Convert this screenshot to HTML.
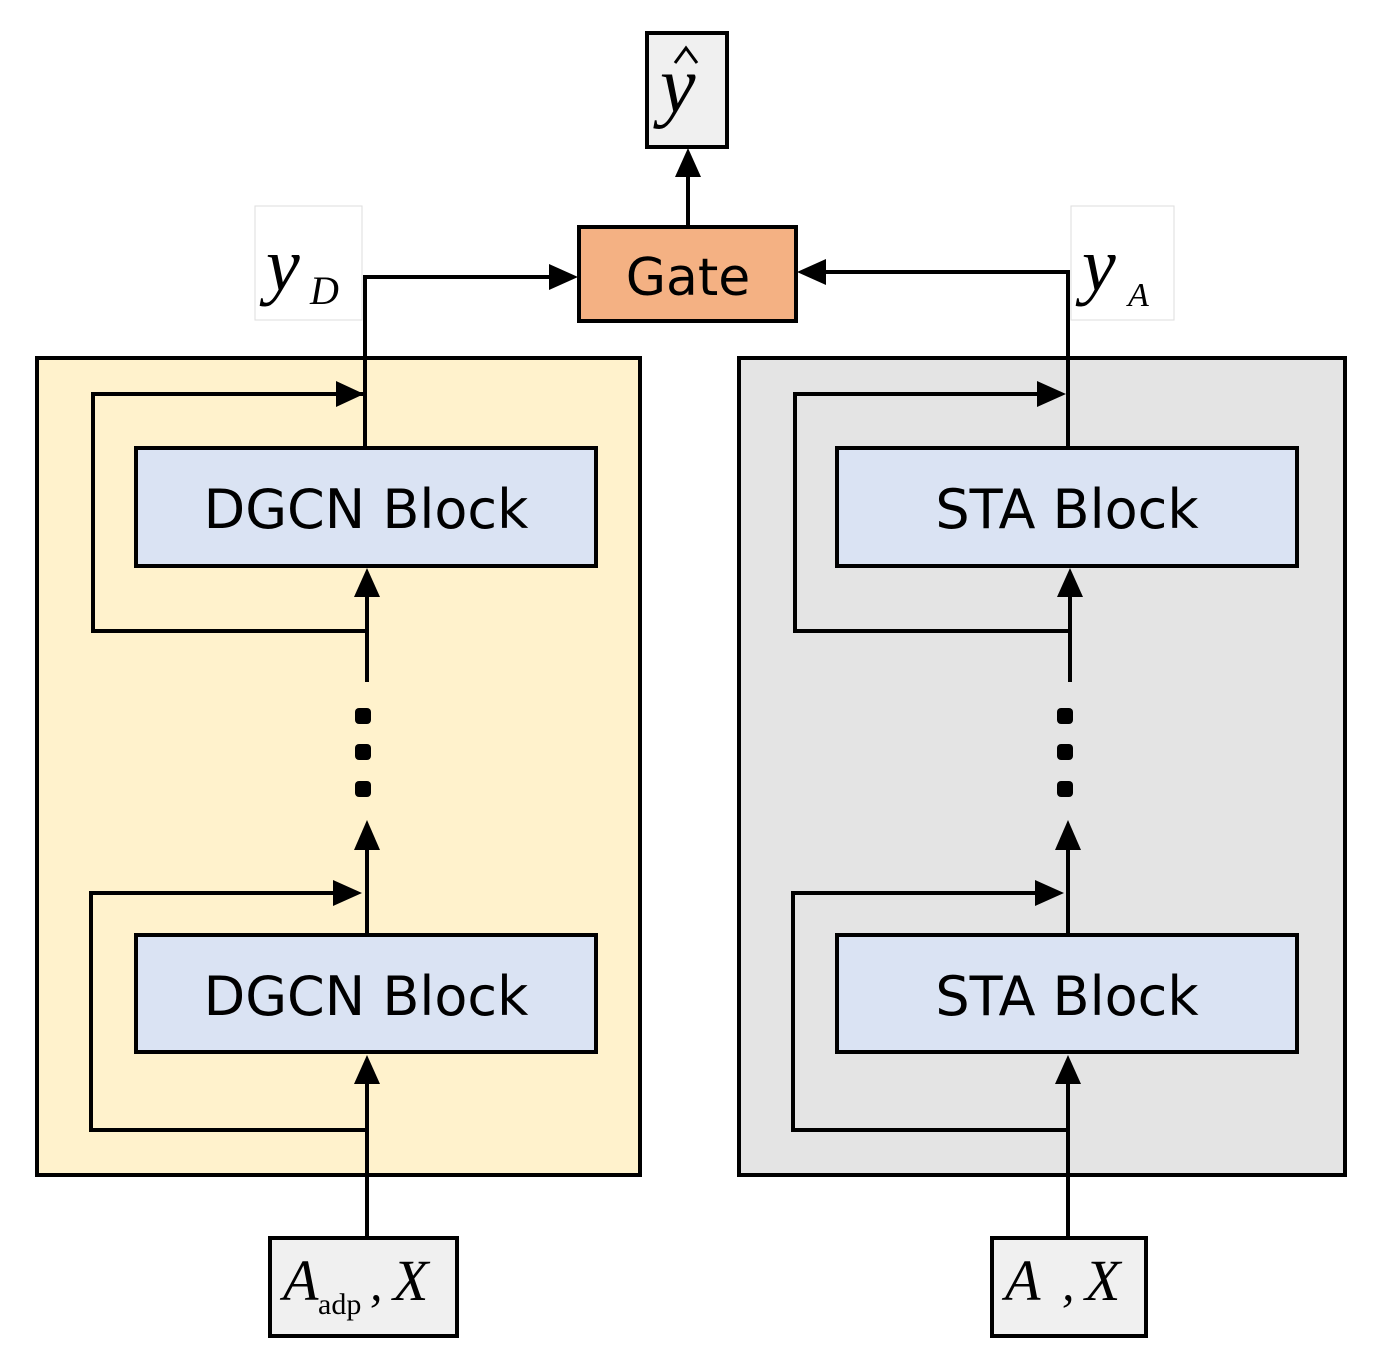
<!DOCTYPE html>
<html><head><meta charset="utf-8"><style>
html,body{margin:0;padding:0;background:#fff;}
svg{display:block;}
.t{font-family:"DejaVu Sans","Liberation Sans",sans-serif;}
.m{font-family:"Liberation Serif",serif;font-style:italic;}
</style></head><body>
<svg width="1379" height="1364" viewBox="0 0 1379 1364" xmlns="http://www.w3.org/2000/svg">
<!-- panels -->
<rect x="37" y="358" width="603" height="817" fill="#fff2cc" stroke="#000" stroke-width="4"/>
<rect x="739" y="358" width="606" height="817" fill="#e4e4e4" stroke="#000" stroke-width="4"/>
<!-- label boxes -->
<rect x="255" y="206" width="107" height="114" fill="#fff" stroke="#ddd" stroke-width="1"/>
<rect x="1071" y="206" width="103" height="114" fill="#fff" stroke="#ddd" stroke-width="1"/>
<text x="266" y="290" class="m" font-size="76">y</text><text x="310" y="304" class="m" font-size="40">D</text>
<text x="1082" y="290" class="m" font-size="76">y</text><text x="1128" y="306" class="m" font-size="34">A</text>
<!-- yhat -->
<rect x="647" y="33" width="80" height="114" fill="#f0f0f0" stroke="#000" stroke-width="4"/>
<text x="660" y="112" class="m" font-size="80">y</text>
<polyline points="675,63 686,48 697,63" fill="none" stroke="#000" stroke-width="3"/>
<!-- gate -->
<rect x="579" y="227" width="217" height="94" fill="#f4b183" stroke="#000" stroke-width="4"/>
<text x="688" y="295" class="t" font-size="52" text-anchor="middle">Gate</text>
<g stroke="#000" stroke-width="4" fill="none">
<line x1="688" y1="227" x2="688" y2="175"/>
<polyline points="365,358 365,277 550,277"/>
<polyline points="1068,358 1068,272 826,272"/>
<line x1="365" y1="358" x2="365" y2="448"/>
<polyline points="365,394 93,394 93,631 367,631"/>
<line x1="367" y1="682" x2="367" y2="595"/>
<line x1="367" y1="935" x2="367" y2="850"/>
<polyline points="335,893 91,893 91,1130 367,1130"/>
<line x1="367" y1="1238" x2="367" y2="1082"/>
<line x1="1068" y1="358" x2="1068" y2="448"/>
<polyline points="1038,394 795,394 795,631 1070,631"/>
<line x1="1070" y1="682" x2="1070" y2="595"/>
<line x1="1068" y1="935" x2="1068" y2="850"/>
<polyline points="1038,893 793,893 793,1130 1068,1130"/>
<line x1="1068" y1="1238" x2="1068" y2="1082"/>
</g>
<g fill="#000">
<polygon points="688,148 675,177 701,177"/>
<polygon points="578,277 549,264 549,290"/>
<polygon points="797,272 826,259 826,285"/>
<polygon points="364,394 336,381 336,407"/>
<polygon points="367,568 354,597 380,597"/>
<polygon points="367,820 354,850 380,850"/>
<polygon points="362,893 333,880 333,906"/>
<polygon points="367,1055 354,1084 380,1084"/>
<polygon points="1066,394 1037,381 1037,407"/>
<polygon points="1070,568 1057,597 1083,597"/>
<polygon points="1068,820 1055,850 1081,850"/>
<polygon points="1064,893 1035,880 1035,906"/>
<polygon points="1068,1055 1055,1084 1081,1084"/>
<rect x="355" y="708" width="16" height="16" rx="4"/><rect x="355" y="744" width="16" height="16" rx="4"/><rect x="355" y="781" width="16" height="16" rx="4"/>
<rect x="1057" y="708" width="16" height="16" rx="4"/><rect x="1057" y="744" width="16" height="16" rx="4"/><rect x="1057" y="781" width="16" height="16" rx="4"/>
</g>
<!-- blocks -->
<rect x="136" y="448" width="460" height="118" fill="#dae3f3" stroke="#000" stroke-width="4"/>
<rect x="136" y="935" width="460" height="117" fill="#dae3f3" stroke="#000" stroke-width="4"/>
<rect x="837" y="448" width="460" height="118" fill="#dae3f3" stroke="#000" stroke-width="4"/>
<rect x="837" y="935" width="460" height="117" fill="#dae3f3" stroke="#000" stroke-width="4"/>
<text x="366" y="528" class="t" font-size="54" text-anchor="middle">DGCN Block</text>
<text x="366" y="1015" class="t" font-size="54" text-anchor="middle">DGCN Block</text>
<text x="1067" y="528" class="t" font-size="54" text-anchor="middle">STA Block</text>
<text x="1067" y="1015" class="t" font-size="54" text-anchor="middle">STA Block</text>
<!-- inputs -->
<rect x="270" y="1238" width="187" height="98" fill="#f0f0f0" stroke="#000" stroke-width="4"/>
<rect x="992" y="1238" width="154" height="98" fill="#f0f0f0" stroke="#000" stroke-width="4"/>
<text x="283" y="1300" class="m" font-size="58">A</text>
<text x="318" y="1314" font-family="Liberation Serif,serif" font-size="30">adp</text>
<text x="370" y="1300" class="m" font-size="50">,</text>
<text x="393" y="1300" class="m" font-size="58">X</text>
<text x="1005" y="1300" class="m" font-size="58">A</text>
<text x="1062" y="1300" class="m" font-size="50">,</text>
<text x="1085" y="1300" class="m" font-size="58">X</text>
</svg>
</body></html>
